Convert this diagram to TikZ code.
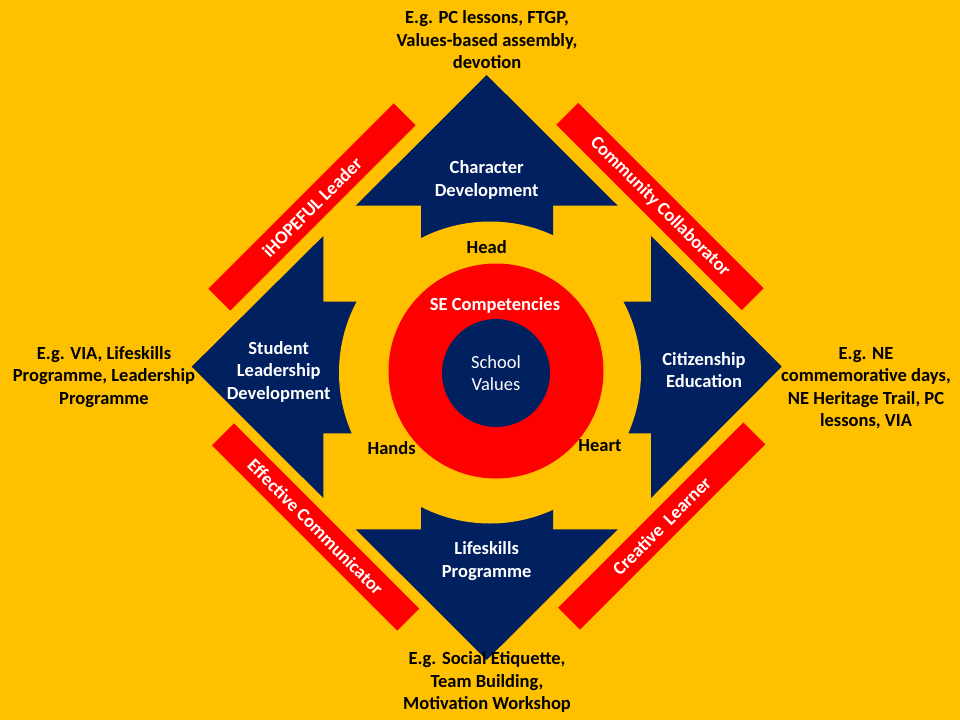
\documentclass[tikz,border=0pt]{standalone}
\usepackage{fontspec}
\setmainfont{Carlito}
\definecolor{bgy}{HTML}{FFC000}
\definecolor{navy}{HTML}{002060}
\definecolor{rd}{HTML}{FF0000}
\begin{document}
\begin{tikzpicture}[x=1pt,y=-1pt,
  txt/.style={font=\fontsize{18.5}{22.5}\selectfont\bfseries, align=center, inner sep=0pt},
  wtxt/.style={txt, text=white},
  btxt/.style={txt, text=black},
  bar/.style={fill=rd, minimum width=262pt, minimum height=31pt, inner sep=0pt, text=white,
    font=\fontsize{18.5}{22.5}\selectfont\bfseries},
  arrowshape/.style={fill=navy}]
\fill[bgy] (0,0) rectangle (960,720);
\useasboundingbox (0,0) rectangle (960,720);
% arrows
\fill[arrowshape] (486.7,75) -- (617.7,205.7) -- (553,205.7) -- (553,372) -- (421,372) -- (421,205.7) -- (355.7,205.7) -- cycle;
\fill[arrowshape] (486.7,660) -- (617.7,529.3) -- (553,529.3) -- (553,372) -- (421,372) -- (421,529.3) -- (355.7,529.3) -- cycle;
\fill[arrowshape] (191.7,366.7) -- (323.3,236) -- (323.3,301.7) -- (490,301.7) -- (490,433.3) -- (323.3,433.3) -- (323.3,498) -- cycle;
\fill[arrowshape] (781.7,366.7) -- (651,236) -- (651,301.7) -- (490,301.7) -- (490,433.3) -- (651,433.3) -- (651,498) -- cycle;
% centre circles
\fill[bgy] (490,372.5) circle[radius=151pt];
\fill[rd] (496,371) circle[radius=107.5pt];
\fill[navy] (496,373) circle[radius=54pt];
% bars
\node[bar, rotate=45] (b1) at (312,207) {iHOPEFUL Leader};
\node[bar, rotate=-45] (b2) at (660,206.5) {Community Collaborator};
\node[bar, rotate=-45] (b3) at (315.6,527) {Effective Communicator};
\node[bar, rotate=45] (b4) at (661.7,526) {Creative\ \ Learner};
% arrow labels
\node[wtxt] (cd) at (486.7,180) {Character\\Development};
\node[wtxt] (sl) at (278.7,371.5) {Student\\Leadership\\Development};
\node[wtxt] (ce) at (704,370) {Citizenship\\Education};
\node[wtxt] (lp) at (486.7,561) {Lifeskills\\Programme};
% centre labels
\node[btxt] (head) at (486.7,247) {Head};
\node[btxt] (hands) at (391.7,448) {Hands};
\node[btxt] (heart) at (600,445.5) {Heart};
\node[wtxt] (se) at (495,305) {SE Competencies};
\node[txt, text=white, font=\fontsize{18.5}{22.5}\selectfont] (sv) at (496,373) {School\\Values};
% outer texts
\node[btxt] (t1) at (487,40) {E.g. PC lessons, FTGP,\\Values-based assembly,\\devotion};
\node[btxt] (t2) at (104,377) {E.g. VIA, Lifeskills\\Programme, Leadership\\Programme};
\node[btxt] (t3) at (866,388) {E.g. NE\\commemorative days,\\NE Heritage Trail, PC\\lessons, VIA};
\node[btxt] (t4) at (487,682) {E.g. Social Etiquette,\\Team Building,\\Motivation Workshop};
\end{tikzpicture}
\end{document}
